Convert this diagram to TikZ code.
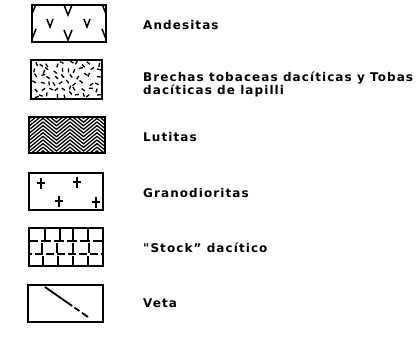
\documentclass[tikz,border=0pt]{standalone}
\usepackage{fontspec}
\newfontfamily\legfont[LetterSpace=9]{DejaVu Sans}
\usetikzlibrary{positioning}

\begin{document}
\begin{tikzpicture}[
    x=1pt, y=-1pt,
    keybox/.style={draw, line width=1.5pt, minimum width=74pt, minimum height=37pt, inner sep=0pt},
    lbl/.style={anchor=west, inner sep=0pt, align=left, font=\legfont\bfseries\fontsize{12}{11}\selectfont},
    pat/.style={line width=1.5pt}
]
\useasboundingbox (0,0) rectangle (419,339);

% legend boxes
\node[keybox] (andbox) at (69,23.5) {};
\node[keybox, minimum width=71pt, minimum height=39pt] (brebox) at (66.5,79.5) {};
\node[keybox, minimum width=76pt, minimum height=36pt] (lutbox) at (67,135) {};
\node[keybox] (grabox) at (66,191.5) {};
\node[keybox, minimum height=38pt] (stobox) at (66,247) {};
\node[keybox, minimum width=75pt] (vetbox) at (65.5,303.5) {};

% andesitas
\begin{scope}
  \clip (andbox.south west) rectangle (andbox.north east);
  \foreach \vx/\vy/\vs in {68/10/5, 50/23/4, 87/23/4, 68/35/5, 32/9/5, 32/34/5, 106/9/5, 106/34/5}
    \draw[pat] (\vx-\vs+1,\vy-\vs) -- (\vx,\vy+\vs) -- (\vx+\vs-1,\vy-\vs);
\end{scope}

% brechas
\begin{scope}
  \clip (brebox.south west) rectangle (brebox.north east);
  \pgfmathsetseed{11}
  \foreach \i in {0,...,9}
    \foreach \j in {0,...,5}{
      \pgfmathsetmacro\px{35+\i*6.9+rand*2.6}
      \pgfmathsetmacro\py{64+\j*6.2+rand*2.2}
      \pgfmathsetmacro\pa{rnd*180}
      \draw[pat, line width=1.3pt] (\px,\py) ++(\pa:-2) -- ++(\pa:4);
    }
\end{scope}

% lutitas
\begin{scope}
  \clip (lutbox.south west) rectangle (lutbox.north east);
  \foreach \k in {0,...,17}
    \draw[pat, line width=1.3pt] (16,104+\k*3.6) -- ++(13.5,11) -- ++(13.5,-11) -- ++(13.5,11)
      -- ++(13.5,-11) -- ++(13.5,11) -- ++(13.5,-11) -- ++(13.5,11);
\end{scope}

% granodioritas
\foreach \cx/\cy in {41/183, 77/182, 59/201, 96/202}
  \draw[pat, line width=1.7pt] (\cx-4,\cy) -- (\cx+4,\cy) (\cx,\cy-5.5) -- (\cx,\cy+5.5);

% stock
\draw[pat, dash pattern=on 10pt off 3pt] (stobox.west |- 0,241) -- (stobox.east |- 0,241);
\draw[pat, dash pattern=on 8pt off 3pt, dash phase=4pt] (stobox.west |- 0,254) -- (stobox.east |- 0,254);
\foreach \sx in {45,60,73,88}
  \draw[pat] (\sx,229) -- (\sx,239.5);
\foreach \sx in {42,57,73,89}
  \draw[pat] (\sx,243) -- (\sx,252.5);
\foreach \sx in {43,58,73,88}
  \draw[pat] (\sx,256) -- (\sx,265);

% veta
\draw[pat, line width=1.8pt, dash pattern=on 33pt off 3pt on 6pt off 3pt on 8pt] (45,287) -- (88,317);

% labels
\node[lbl] (andlbl) at (143,25) {Andesitas};
\node[lbl] (brelbl) at (143,84.5) {Brechas tobaceas dacíticas y Tobas\\dacíticas de lapilli};
\node[lbl] (lutlbl) at (143,137) {Lutitas};
\node[lbl] (gralbl) at (143,193) {Granodioritas};
\node[lbl] (stolbl) at (143,248) {"Stock” dacítico};
\node[lbl] (vetlbl) at (143,303) {Veta};

\end{tikzpicture}
\end{document}
